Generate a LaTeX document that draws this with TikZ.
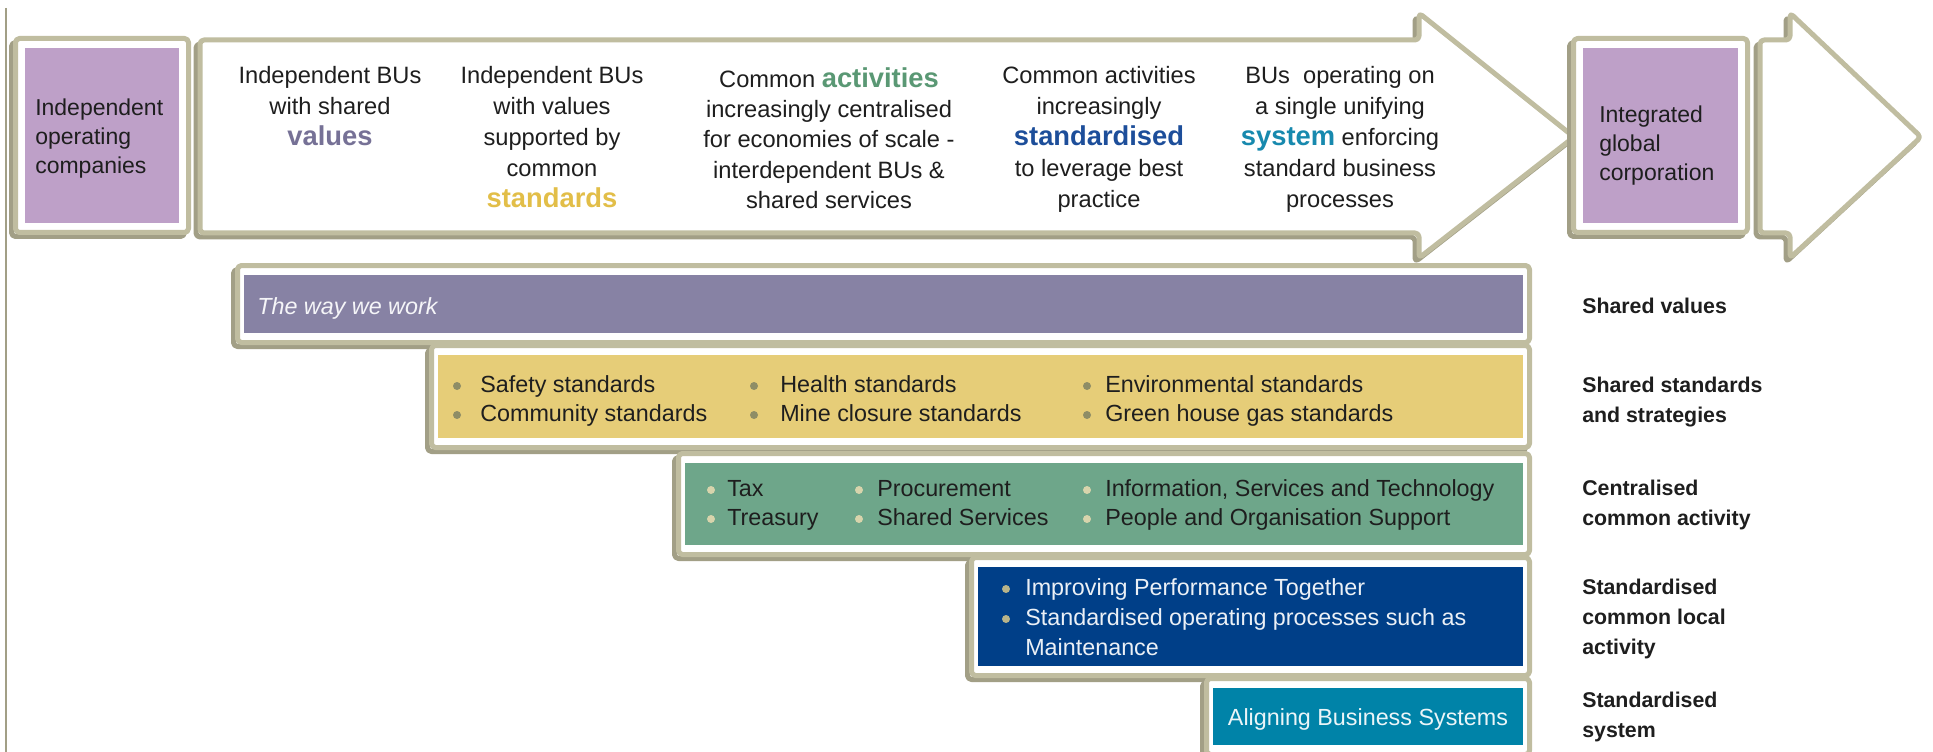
\documentclass[tikz,border=0pt]{standalone}
\usepackage{fontspec}
\setmainfont{Liberation Sans}
\definecolor{frm}{HTML}{C0BDA0}
\definecolor{shd}{HTML}{A29F86}
\definecolor{lilac}{HTML}{BEA0C8}
\definecolor{valbar}{HTML}{8782A4}
\definecolor{stdbar}{HTML}{E6CD78}
\definecolor{actbar}{HTML}{6EA68A}
\definecolor{locbar}{HTML}{003F88}
\definecolor{sysbar}{HTML}{0083A8}
\definecolor{valtxt}{HTML}{767196}
\definecolor{stdtxt}{HTML}{E2BE48}
\definecolor{acttxt}{HTML}{5A9874}
\definecolor{loctxt}{HTML}{1D4E9A}
\definecolor{systxt}{HTML}{1789AE}
\definecolor{bulA}{HTML}{8E8D66}
\definecolor{bulB}{HTML}{D8D4AC}
\definecolor{bulC}{HTML}{B8B48A}
\definecolor{ink}{HTML}{1E1E1E}
\newcommand\hlword{\bfseries\fontsize{20.5}{23.25}\selectfont}
\tikzset{
  frameline/.style={draw=frm, line width=3.75pt, line join=round, rounded corners=3pt},
  shadowline/.style={draw=shd, line width=3.75pt, line join=round, rounded corners=3pt},
  hdr/.style={font=\fontsize{17.75}{23.25}\selectfont, align=center, anchor=north, inner sep=0pt, text=ink},
  lbl/.style={font=\fontsize{17.25}{21.5}\selectfont, align=left, anchor=north west, inner sep=0pt, text=ink},
  side/.style={font=\bfseries\fontsize{16}{22.5}\selectfont, align=left, anchor=north west, inner sep=0pt, text=ink},
  item/.style={font=\fontsize{17.5}{22.5}\selectfont, anchor=mid west, inner sep=0pt, text=ink},
  dot/.style={circle, inner sep=0pt, minimum size=6pt},
}
% fill rectangle x1 y1 x2 y2, colour
\newcommand\mypanel[5]{%
  \draw[shadowline] ({#1-6.5-4},{#2-9.5+4}) rectangle ({#3+6.5-4},{#4+9.5+4});
  \draw[frameline, fill=white] ({#1-6.5},{#2-9.5}) rectangle ({#3+6.5},{#4+9.5});
  \fill[#5] (#1,#2) rectangle (#3,#4);}
\begin{document}
\begin{tikzpicture}[x=0.75pt,y=-0.75pt]
\useasboundingbox (0,0) rectangle (1933,752);
\fill[white] (0,0) rectangle (1933,752);
% left rule
\draw[shd, line width=1.5pt] (6,8) -- (6,752);

% left box
\draw[shadowline] (11.5,42.5) rectangle (184.5,236.5);
\draw[frameline, fill=white] (15.5,38.5) rectangle (188.5,232.5);
\fill[lilac] (25,48) rectangle (179,223);
\node[lbl] (indep) at (35,99) {Independent\\operating\\companies};

% big arrow
\draw[shadowline, shift={(-4,4)}] (200,40) -- (1419,40) -- (1419,13) -- (1574,137) -- (1419,258) -- (1419,233) -- (200,233) -- cycle;
\draw[frameline, fill=white] (200,40) -- (1419,40) -- (1419,13) -- (1574,137) -- (1419,258) -- (1419,233) -- (200,233) -- cycle;

% integrated box
\draw[shadowline] (1569.5,42.5) rectangle (1743.5,236.5);
\draw[frameline, fill=white] (1573.5,38.5) rectangle (1747.5,232.5);
\fill[lilac] (1583,48) rectangle (1738,223);
\node[lbl, font=\fontsize{17.25}{21.75}\selectfont] (integ) at (1599,106) {Integrated\\global\\corporation};

% right arrow
\draw[shadowline, shift={(-4,4)}] (1760,40) -- (1790,40) -- (1790,13) -- (1921,137) -- (1790,258) -- (1790,233) -- (1760,233) -- cycle;
\draw[frameline, fill=white] (1760,40) -- (1790,40) -- (1790,13) -- (1921,137) -- (1790,258) -- (1790,233) -- (1760,233) -- cycle;

% header columns
\node[hdr] (c1) at (330,66) {Independent BUs\\with shared\\{\hlword\color{valtxt}values}};
\node[hdr] (c2) at (552,66) {Independent BUs\\with values\\supported by\\common\\{\hlword\color{stdtxt}standards}};
\node[hdr, font=\fontsize{17.75}{22.75}\selectfont] (c3) at (829,67) {Common {\hlword\color{acttxt}activities}\\increasingly centralised\\for economies of scale -\\interdependent BUs \&\\shared services};
\node[hdr] (c4) at (1099,66) {Common activities\\increasingly\\{\hlword\color{loctxt}standardised}\\to leverage best\\practice};
\node[hdr] (c5) at (1340,66) {BUs~ operating on\\a single unifying\\{\hlword\color{systxt}system} enforcing\\standard business\\processes};

% bars
\mypanel{244}{275}{1523}{333}{valbar}
\node[item, font=\itshape\fontsize{17.5}{22.5}\selectfont, text=white!92!valbar] (way) at (257,311) {The way we work};

\mypanel{438}{355}{1523}{438}{stdbar}
\node[dot, fill=bulA] (d11) at (457,386) {};
\node[item] (t11) at (480,389) {Safety standards};
\node[dot, fill=bulA] (d12) at (457,415) {};
\node[item] (t12) at (480,418) {Community standards};
\node[dot, fill=bulA] (d13) at (754,386) {};
\node[item] (t13) at (780,389) {Health standards};
\node[dot, fill=bulA] (d14) at (754,415) {};
\node[item] (t14) at (780,418) {Mine closure standards};
\node[dot, fill=bulA] (d15) at (1087,386) {};
\node[item] (t15) at (1105,389) {Environmental standards};
\node[dot, fill=bulA] (d16) at (1087,415) {};
\node[item] (t16) at (1105,418) {Green house gas standards};

\mypanel{685}{463}{1523}{545}{actbar}
\node[dot, fill=bulB] (d21) at (711,490) {};
\node[item] (t21) at (727,493) {Tax};
\node[dot, fill=bulB] (d22) at (711,519) {};
\node[item] (t22) at (727,522) {Treasury};
\node[dot, fill=bulB] (d23) at (859,490) {};
\node[item] (t23) at (877,493) {Procurement};
\node[dot, fill=bulB] (d24) at (859,519) {};
\node[item] (t24) at (877,522) {Shared Services};
\node[dot, fill=bulB] (d25) at (1087,490) {};
\node[item] (t25) at (1105,493) {Information, Services and Technology};
\node[dot, fill=bulB] (d26) at (1087,519) {};
\node[item] (t26) at (1105,522) {People and Organisation Support};

\mypanel{978}{567}{1523}{666}{locbar}
\node[dot, fill=bulC] (d31) at (1006,589) {};
\node[item, text=white!92!locbar] (t31) at (1025,592) {Improving Performance Together};
\node[dot, fill=bulC] (d32) at (1006,619) {};
\node[item, text=white!92!locbar] (t32) at (1025,622) {Standardised operating processes such as};
\node[item, text=white!92!locbar] (t33) at (1025,652) {Maintenance};

\mypanel{1213}{688}{1523}{745}{sysbar}
\node[item, anchor=mid, text=white!92!sysbar] (t41) at (1368,722) {Aligning Business Systems};

% side labels
\node[side] (s1) at (1582,298) {Shared values};
\node[side] (s2) at (1582,377) {Shared standards\\and strategies};
\node[side] (s3) at (1582,480) {Centralised\\common activity};
\node[side] (s4) at (1582,579) {Standardised\\common local\\activity};
\node[side] (s5) at (1582,692) {Standardised\\system};
\end{tikzpicture}
\end{document}
